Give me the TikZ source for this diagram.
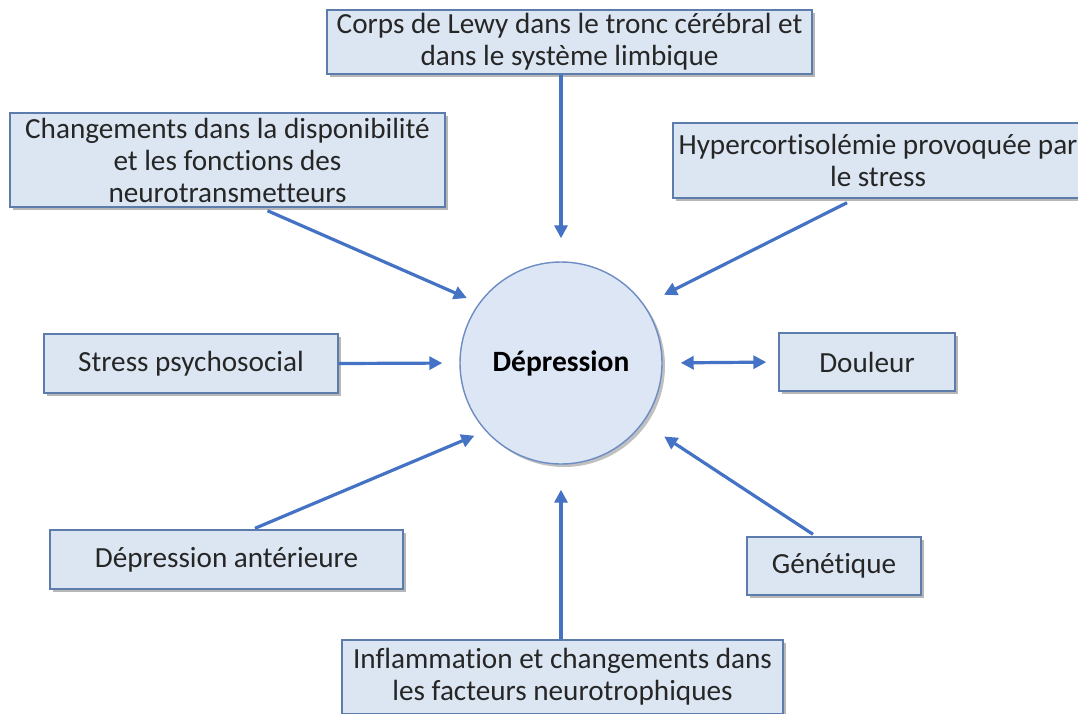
\documentclass[tikz,border=0pt]{standalone}
\usepackage{fontspec}
\setmainfont[Ligatures={NoCommon}]{Carlito}
\usetikzlibrary{arrows.meta,shadows}
\definecolor{boxfill}{RGB}{220,230,242}
\definecolor{boxedge}{RGB}{92,124,172}
\definecolor{arrowblue}{RGB}{68,114,196}
\definecolor{circfill}{RGB}{220,230,244}
\definecolor{circedge}{RGB}{110,140,196}
\tikzset{
  factor/.style={draw=boxedge, line width=1.4pt, fill=boxfill, align=center,
    inner sep=0pt, text=black!85, font=\fontsize{29.2}{32}\selectfont,
    drop shadow={shadow xshift=3pt, shadow yshift=-3pt, opacity=0.4, fill=black!70}},
  hub/.style={circle, draw=circedge, line width=1.4pt, fill=circfill, inner sep=0pt,
    minimum size=202pt, font=\bfseries\fontsize{29.5}{32}\selectfont,
    drop shadow={shadow xshift=3pt, shadow yshift=-3pt, opacity=0.35, fill=black!70}},
  link/.style={draw=arrowblue, line width=3.2pt, -{Triangle[length=13pt,width=13pt]}},
  link2/.style={draw=arrowblue, line width=3.2pt, {Triangle[length=13pt,width=13pt]}-{Triangle[length=13pt,width=13pt]}},
}
\begin{document}
\begin{tikzpicture}[x=1pt,y=-1pt]
\useasboundingbox (0,0) rectangle (1078,713);
\clip (0,0) rectangle (1078,713);
\fill[white] (0,0) rectangle (1078,713);

% central node
\node[hub] (dep) at (561,363) {Dépression};

% causes around it
\node[factor, minimum width=485pt, minimum height=64pt] (lewy) at (569.5,42)
  {Corps de Lewy dans le tronc cérébral et\\dans le système limbique};
\node[factor, minimum width=435pt, minimum height=94pt] (chg) at (227.5,160)
  {Changements dans la disponibilité\\et les fonctions des\\neurotransmetteurs};
\node[factor, minimum width=410pt, minimum height=75pt] (hyp) at (878,160.5)
  {Hypercortisolémie provoquée par\\le stress};
\node[factor, minimum width=294pt, minimum height=59pt] (stress) at (191,363.5)
  {Stress psychosocial};
\node[factor, minimum width=176pt, minimum height=58pt] (pain) at (867,362)
  {Douleur};
\node[factor, minimum width=353pt, minimum height=59pt] (prev) at (226.5,559.5)
  {Dépression antérieure};
\node[factor, minimum width=174pt, minimum height=58pt] (gene) at (834,566)
  {Génétique};
\node[factor, minimum width=441pt, minimum height=74pt] (infl) at (562.5,677)
  {Inflammation et changements dans\\les facteurs neurotrophiques};

% connectors
\draw[link, shorten >=23pt] (lewy.south -| dep.north) -- (dep.north);
\draw[link, shorten >=13pt] ([xshift=40pt,yshift=-3pt]chg.south) -- (dep.144.6);
\draw[link, shorten >=22pt] ([xshift=-31pt,yshift=-4pt]hyp.south) -- (dep.35.1);
\draw[link, shorten >=17pt] (stress.east) -- (dep.west);
\draw[link2, shorten <=18pt, shorten >=12pt] (dep.east) -- (pain.west);
\draw[link, shorten >=12pt] ([xshift=28.5pt,yshift=1pt]prev.north) -- (dep.222.9);
\draw[link, shorten >=25pt] ([xshift=-21pt,yshift=2pt]gene.north) -- (dep.-36.3);
\draw[link, shorten >=25pt] (infl.north -| dep.south) -- (dep.south);
\end{tikzpicture}
\end{document}
